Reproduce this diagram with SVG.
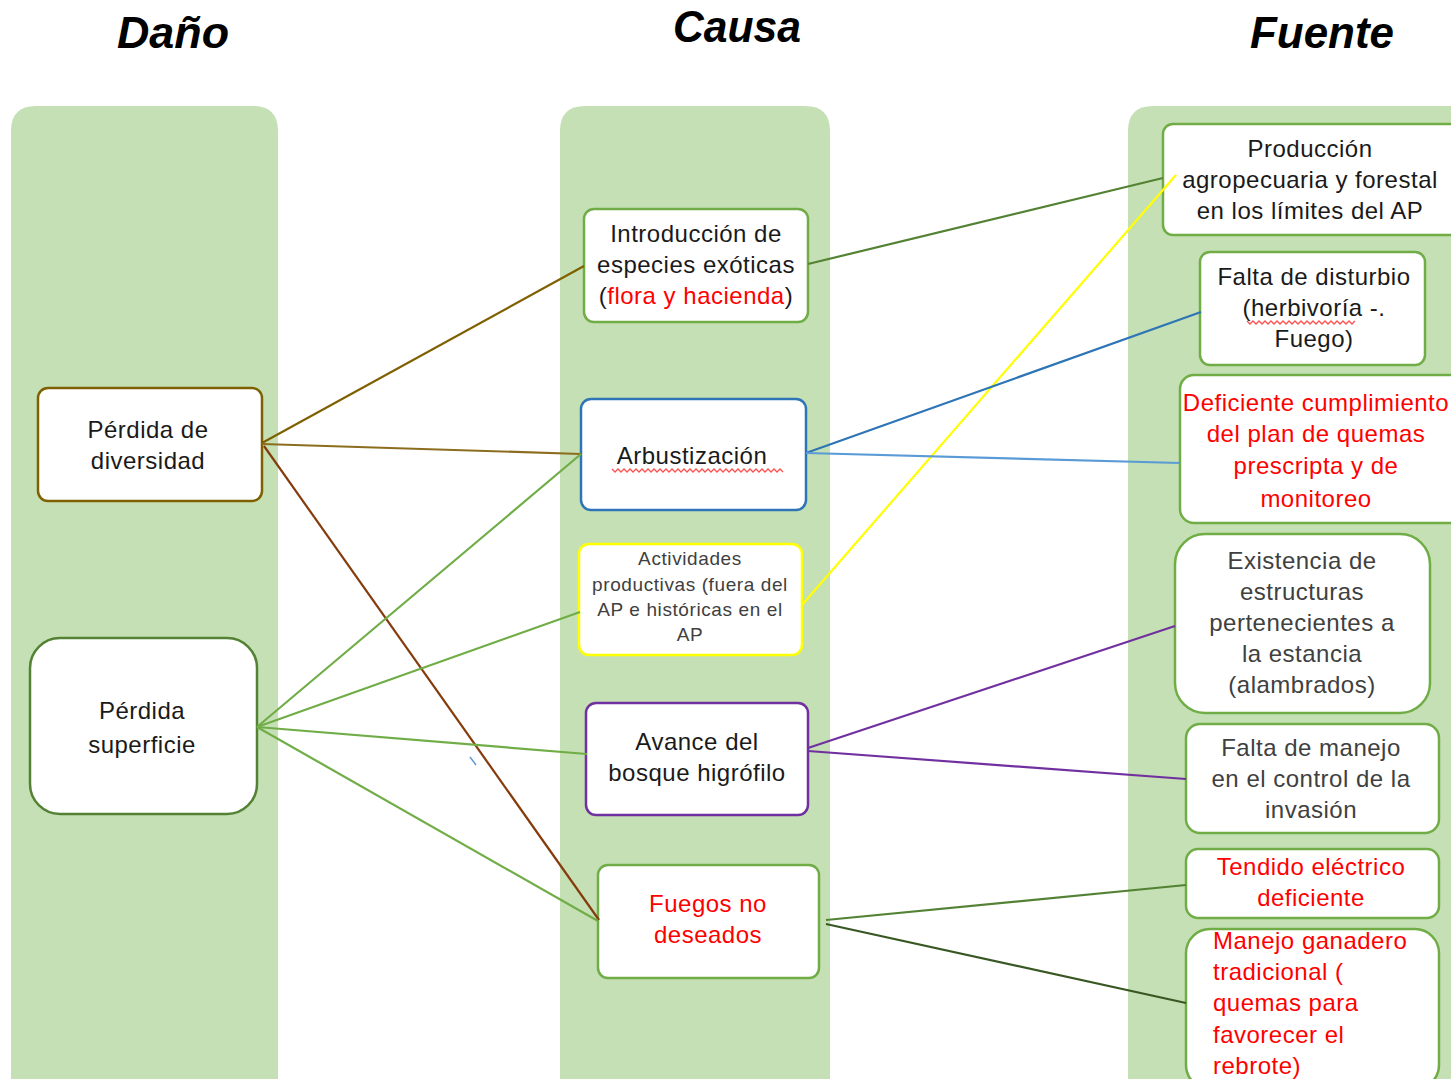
<svg xmlns="http://www.w3.org/2000/svg" width="1451" height="1079" viewBox="0 0 1451 1079">
<style>
.col{fill:#c5e0b4}
.title{font-family:"Liberation Sans",Arial,sans-serif;font-weight:bold;font-style:italic;font-size:44px;fill:#000;text-anchor:middle}
.box{fill:#fff;stroke-width:2.5}
.t{font-family:"Liberation Sans",Arial,sans-serif;font-size:24px;letter-spacing:0.5px;fill:#1a1a1a;text-anchor:middle}
.ts{font-family:"Liberation Sans",Arial,sans-serif;font-size:19px;letter-spacing:0.6px;fill:#404040;text-anchor:middle}
.tg{fill:#404040}
.red{fill:#ff0000}
.st{text-anchor:start}
.c{fill:none;stroke-width:2.2}
.wavy{fill:none;stroke:#ff5050;stroke-width:1.3}
</style>
<rect width="1451" height="1079" fill="#fff"/>
<g id="columns">
<path class="col" d="M11,1079 V131 Q11,106 36,106 H253 Q278,106 278,131 V1079 Z"/>
<path class="col" d="M560,1079 V131 Q560,106 585,106 H805 Q830,106 830,131 V1079 Z"/>
<path class="col" d="M1128,1079 V131 Q1128,106 1153,106 H1451 V1079 Z"/>
</g>
<g id="titles">
<text class="title" x="173" y="48" textLength="112" lengthAdjust="spacingAndGlyphs">Daño</text>
<text class="title" x="737" y="42" textLength="128" lengthAdjust="spacingAndGlyphs">Causa</text>
<text class="title" x="1322" y="48" textLength="144" lengthAdjust="spacingAndGlyphs">Fuente</text>
</g>
<g id="n-perdida-diversidad">
<rect class="box" x="38" y="388" width="224" height="113" rx="10" stroke="#7f6000"/>
<text class="t" x="148" y="438">Pérdida de</text>
<text class="t" x="148" y="469">diversidad</text>
</g>
<g id="n-perdida-superficie">
<rect class="box" x="30" y="638" width="227" height="176" rx="30" stroke="#548235"/>
<text class="t" x="142" y="719">Pérdida</text>
<text class="t" x="142" y="753">superficie</text>
</g>
<g id="n-introduccion">
<rect class="box" x="584" y="209" width="224" height="113" rx="10" stroke="#70ad47"/>
<text class="t" x="696" y="242">Introducción de</text>
<text class="t" x="696" y="273">especies exóticas</text>
<text class="t" x="696" y="304">(<tspan class="red">flora y hacienda</tspan>)</text>
</g>
<g id="n-arbustizacion">
<rect class="box" x="581" y="399" width="225" height="111" rx="10" stroke="#2e75b6"/>
<text class="t" x="692" y="464">Arbustización</text>
<path class="wavy" d="M612,469 l3,3 l3,-3 l3,3 l3,-3 l3,3 l3,-3 l3,3 l3,-3 l3,3 l3,-3 l3,3 l3,-3 l3,3 l3,-3 l3,3 l3,-3 l3,3 l3,-3 l3,3 l3,-3 l3,3 l3,-3 l3,3 l3,-3 l3,3 l3,-3 l3,3 l3,-3 l3,3 l3,-3 l3,3 l3,-3 l3,3 l3,-3 l3,3 l3,-3 l3,3 l3,-3 l3,3 l3,-3 l3,3 l3,-3 l3,3 l3,-3 l3,3 l3,-3 l3,3 l3,-3 l3,3 l3,-3 l3,3 l3,-3 l3,3 l3,-3 l3,3 l3,-3 l3,3"/>
</g>
<g id="n-actividades">
<rect class="box" x="579" y="544" width="223" height="111" rx="10" stroke="#ffff00"/>
<text class="ts" x="690" y="565">Actividades</text>
<text class="ts" x="690" y="591">productivas (fuera del</text>
<text class="ts" x="690" y="616">AP e históricas en el</text>
<text class="ts" x="690" y="641">AP</text>
</g>
<g id="n-avance">
<rect class="box" x="586" y="703" width="222" height="112" rx="10" stroke="#7030a0"/>
<text class="t" x="697" y="750">Avance del</text>
<text class="t" x="697" y="781">bosque higrófilo</text>
</g>
<g id="n-fuegos">
<rect class="box" x="598" y="865" width="221" height="113" rx="10" stroke="#70ad47"/>
<text class="t red" x="708" y="912">Fuegos no</text>
<text class="t red" x="708" y="943">deseados</text>
</g>
<g id="n-produccion">
<rect class="box" x="1163" y="124" width="300" height="111" rx="10" stroke="#70ad47"/>
<text class="t" x="1310" y="157">Producción</text>
<text class="t" x="1310" y="188">agropecuaria y forestal</text>
<text class="t" x="1310" y="219">en los límites del AP</text>
</g>
<g id="n-falta-disturbio">
<rect class="box" x="1200" y="252" width="225" height="113" rx="10" stroke="#70ad47"/>
<text class="t" x="1314" y="285">Falta de disturbio</text>
<text class="t" x="1314" y="316">(herbivoría -.</text>
<text class="t" x="1314" y="347">Fuego)</text>
<path class="wavy" d="M1247,321 l3,3 l3,-3 l3,3 l3,-3 l3,3 l3,-3 l3,3 l3,-3 l3,3 l3,-3 l3,3 l3,-3 l3,3 l3,-3 l3,3 l3,-3 l3,3 l3,-3 l3,3 l3,-3 l3,3 l3,-3 l3,3 l3,-3 l3,3 l3,-3 l3,3 l3,-3 l3,3 l3,-3 l3,3 l3,-3 l3,3 l3,-3 l3,3 l3,-3"/>
</g>
<g id="n-deficiente">
<rect class="box" x="1180" y="375" width="290" height="148" rx="14" stroke="#70ad47"/>
<text class="t red" x="1316" y="411">Deficiente cumplimiento</text>
<text class="t red" x="1316" y="442">del plan de quemas</text>
<text class="t red" x="1316" y="474">prescripta y de</text>
<text class="t red" x="1316" y="507">monitoreo</text>
</g>
<g id="n-existencia">
<rect class="box" x="1175" y="534" width="255" height="179" rx="30" stroke="#70ad47"/>
<text class="t tg" x="1302" y="569">Existencia de</text>
<text class="t tg" x="1302" y="600">estructuras</text>
<text class="t tg" x="1302" y="631">pertenecientes a</text>
<text class="t tg" x="1302" y="662">la estancia</text>
<text class="t tg" x="1302" y="693">(alambrados)</text>
</g>
<g id="n-falta-manejo">
<rect class="box" x="1186" y="724" width="253" height="109" rx="14" stroke="#70ad47"/>
<text class="t tg" x="1311" y="756">Falta de manejo</text>
<text class="t tg" x="1311" y="787">en el control de la</text>
<text class="t tg" x="1311" y="818">invasión</text>
</g>
<g id="n-tendido">
<rect class="box" x="1186" y="849" width="253" height="69" rx="12" stroke="#70ad47"/>
<text class="t red" x="1311" y="875">Tendido eléctrico</text>
<text class="t red" x="1311" y="906">deficiente</text>
</g>
<g id="n-manejo-ganadero">
<rect class="box" x="1186" y="929" width="253" height="160" rx="24" stroke="#70ad47"/>
<text class="t red st" x="1213" y="949">Manejo ganadero</text>
<text class="t red st" x="1213" y="980">tradicional (</text>
<text class="t red st" x="1213" y="1011">quemas para</text>
<text class="t red st" x="1213" y="1043">favorecer el</text>
<text class="t red st" x="1213" y="1074">rebrote)</text>
</g>
<g id="connectors">
<line class="c" x1="262" y1="443" x2="584" y2="266" stroke="#7f6000"/>
<line class="c" x1="262" y1="444" x2="581" y2="454" stroke="#8c6d1f"/>
<line class="c" x1="264" y1="446" x2="599" y2="920" stroke="#843c0c"/>
<line class="c" x1="257" y1="727" x2="581" y2="454" stroke="#70ad47"/>
<line class="c" x1="257" y1="727" x2="580" y2="612" stroke="#70ad47"/>
<line class="c" x1="257" y1="727" x2="587" y2="754" stroke="#70ad47"/>
<line class="c" x1="257" y1="727" x2="598" y2="921" stroke="#70ad47"/>
<line x1="470" y1="757" x2="476" y2="765" stroke="#5b9bd5" stroke-width="1.5"/>
<line class="c" x1="808" y1="264" x2="1163" y2="178" stroke="#548235"/>
<line class="c" x1="802" y1="605" x2="1176" y2="175" stroke="#ffff00"/>
<line class="c" x1="806" y1="453" x2="1201" y2="312" stroke="#2e75b6"/>
<line class="c" x1="806" y1="453" x2="1180" y2="463" stroke="#5b9bd5"/>
<line class="c" x1="808" y1="748" x2="1175" y2="626" stroke="#7030a0"/>
<line class="c" x1="808" y1="751" x2="1186" y2="779" stroke="#7030a0"/>
<line class="c" x1="826" y1="920" x2="1186" y2="885" stroke="#548235"/>
<line class="c" x1="826" y1="924" x2="1186" y2="1003" stroke="#385723"/>
</g>
</svg>
